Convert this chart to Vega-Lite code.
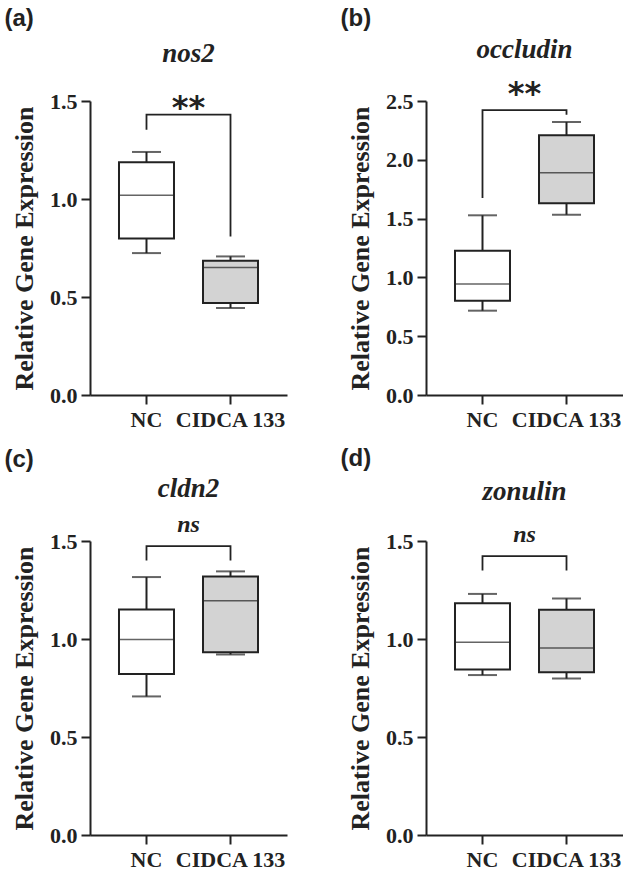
{
  "$schema": "https://vega.github.io/schema/vega-lite/v6.json",
  "padding": {"left": 4, "top": 6, "right": 0, "bottom": 0},
  "background": "white",
  "datasets": {
    "stats": [
      {"gene": "nos2", "group": "NC", "min": 0.724, "q1": 0.798, "median": 1.019, "q3": 1.188, "max": 1.240},
      {"gene": "nos2", "group": "CIDCA 133", "min": 0.444, "q1": 0.469, "median": 0.651, "q3": 0.685, "max": 0.707},
      {"gene": "occludin", "group": "NC", "min": 0.717, "q1": 0.802, "median": 0.944, "q3": 1.227, "max": 1.528},
      {"gene": "occludin", "group": "CIDCA 133", "min": 1.533, "q1": 1.630, "median": 1.890, "q3": 2.208, "max": 2.321},
      {"gene": "cldn2", "group": "NC", "min": 0.707, "q1": 0.821, "median": 0.998, "q3": 1.151, "max": 1.316},
      {"gene": "cldn2", "group": "CIDCA 133", "min": 0.921, "q1": 0.932, "median": 1.195, "q3": 1.319, "max": 1.345},
      {"gene": "zonulin", "group": "NC", "min": 0.816, "q1": 0.845, "median": 0.983, "q3": 1.182, "max": 1.230},
      {"gene": "zonulin", "group": "CIDCA 133", "min": 0.798, "q1": 0.830, "median": 0.954, "q3": 1.149, "max": 1.207}
    ],
    "brackets": [
      {"gene": "nos2", "group": "NC", "order": 1, "y": 1.353},
      {"gene": "nos2", "group": "NC", "order": 2, "y": 1.43},
      {"gene": "nos2", "group": "CIDCA 133", "order": 3, "y": 1.43},
      {"gene": "nos2", "group": "CIDCA 133", "order": 4, "y": 0.809},
      {"gene": "occludin", "group": "NC", "order": 1, "y": 1.675},
      {"gene": "occludin", "group": "NC", "order": 2, "y": 2.423},
      {"gene": "occludin", "group": "CIDCA 133", "order": 3, "y": 2.423},
      {"gene": "occludin", "group": "CIDCA 133", "order": 4, "y": 2.383},
      {"gene": "cldn2", "group": "NC", "order": 1, "y": 1.401},
      {"gene": "cldn2", "group": "NC", "order": 2, "y": 1.474},
      {"gene": "cldn2", "group": "CIDCA 133", "order": 3, "y": 1.474},
      {"gene": "cldn2", "group": "CIDCA 133", "order": 4, "y": 1.401},
      {"gene": "zonulin", "group": "NC", "order": 1, "y": 1.35},
      {"gene": "zonulin", "group": "NC", "order": 2, "y": 1.423},
      {"gene": "zonulin", "group": "CIDCA 133", "order": 3, "y": 1.423},
      {"gene": "zonulin", "group": "CIDCA 133", "order": 4, "y": 1.35}
    ],
    "labels": [
      {"gene": "nos2", "text": "**", "y": 1.464},
      {"gene": "occludin", "text": "**", "y": 2.56},
      {"gene": "cldn2", "text": "ns", "y": 1.58},
      {"gene": "zonulin", "text": "ns", "y": 1.53}
    ]
  },
  "spacing": 17,
  "vconcat": [
    {
      "spacing": 53,
      "hconcat": [
        {
          "title": {"text": "(a)", "anchor": "start", "frame": "bounds", "font": "Liberation Sans, Arial, sans-serif", "fontWeight": "bold", "fontSize": 24, "color": "#222", "offset": 9.5, "dx": -7},
          "vconcat": [
            {
              "width": 197, "height": 294,
              "title": {"text": "nos2", "anchor": "middle", "frame": "group", "font": "Times New Roman, Liberation Serif, DejaVu Serif, serif", "fontStyle": "italic", "fontWeight": "bold", "fontSize": 27, "color": "#222", "offset": 22},
              "layer": [
                {"data": {"name": "brackets"}, "transform": [{"filter": "datum.gene === 'nos2'"}],
                 "mark": {"type": "line", "color": "#222", "strokeWidth": 1.8},
                 "encoding": {
                   "x": {"field": "group", "type": "nominal", "sort": ["NC", "CIDCA 133"], "scale": {"domain": ["NC", "CIDCA 133"], "paddingInner": 0.3, "paddingOuter": 0.3225}, "axis": {"title": null, "labelAngle": 0}},
                   "y": {"field": "y", "type": "quantitative", "scale": {"domain": [0, 1.5], "nice": false, "zero": true}, "axis": {"title": "Relative Gene Expression", "values": [0, 0.5, 1, 1.5], "format": ".1f"}},
                   "order": {"field": "order", "type": "quantitative"}}},
                {"data": {"name": "stats"}, "transform": [{"filter": "datum.gene === 'nos2'"}],
                 "mark": {"type": "rule", "color": "#222", "strokeWidth": 2},
                 "encoding": {"x": {"field": "group", "type": "nominal", "sort": ["NC", "CIDCA 133"]}, "y": {"field": "min", "type": "quantitative"}, "y2": {"field": "max"}}},
                {"data": {"name": "stats"}, "transform": [{"filter": "datum.gene === 'nos2'"}],
                 "mark": {"type": "bar", "width": 55, "stroke": "#222", "strokeWidth": 2},
                 "encoding": {"x": {"field": "group", "type": "nominal", "sort": ["NC", "CIDCA 133"]}, "y": {"field": "q3", "type": "quantitative"}, "y2": {"field": "q1"},
                   "fill": {"field": "group", "type": "nominal", "scale": {"domain": ["NC", "CIDCA 133"], "range": ["#ffffff", "#d3d3d3"]}, "legend": null}}},
                {"data": {"name": "stats"}, "transform": [{"filter": "datum.gene === 'nos2'"}],
                 "mark": {"type": "tick", "color": "#222", "size": 55, "thickness": 1.5},
                 "encoding": {"x": {"field": "group", "type": "nominal", "sort": ["NC", "CIDCA 133"]}, "y": {"field": "median", "type": "quantitative"}}},
                {"data": {"name": "stats"}, "transform": [{"filter": "datum.gene === 'nos2'"}],
                 "mark": {"type": "tick", "color": "#222", "size": 29, "thickness": 2},
                 "encoding": {"x": {"field": "group", "type": "nominal", "sort": ["NC", "CIDCA 133"]}, "y": {"field": "min", "type": "quantitative"}}},
                {"data": {"name": "stats"}, "transform": [{"filter": "datum.gene === 'nos2'"}],
                 "mark": {"type": "tick", "color": "#222", "size": 29, "thickness": 2},
                 "encoding": {"x": {"field": "group", "type": "nominal", "sort": ["NC", "CIDCA 133"]}, "y": {"field": "max", "type": "quantitative"}}},
                {"data": {"name": "labels"}, "transform": [{"filter": "datum.gene === 'nos2'"}],
                 "mark": {"type": "text", "font": "DejaVu Sans", "fontWeight": "bold", "fontSize": 32, "color": "#222", "baseline": "middle"},
                 "encoding": {"y": {"field": "y", "type": "quantitative"}, "text": {"field": "text"}}}
              ]
            }
          ]
        },
        {
          "title": {"text": "(b)", "anchor": "start", "frame": "bounds", "font": "Liberation Sans, Arial, sans-serif", "fontWeight": "bold", "fontSize": 24, "color": "#222", "offset": 4.5, "dx": -7},
          "vconcat": [
            {
              "width": 197, "height": 294,
              "title": {"text": "occludin", "anchor": "middle", "frame": "group", "font": "Times New Roman, Liberation Serif, DejaVu Serif, serif", "fontStyle": "italic", "fontWeight": "bold", "fontSize": 27, "color": "#222", "offset": 14.3},
              "layer": [
                {"data": {"name": "brackets"}, "transform": [{"filter": "datum.gene === 'occludin'"}],
                 "mark": {"type": "line", "color": "#222", "strokeWidth": 1.8},
                 "encoding": {
                   "x": {"field": "group", "type": "nominal", "sort": ["NC", "CIDCA 133"], "scale": {"domain": ["NC", "CIDCA 133"], "paddingInner": 0.3, "paddingOuter": 0.3225}, "axis": {"title": null, "labelAngle": 0}},
                   "y": {"field": "y", "type": "quantitative", "scale": {"domain": [0, 2.5], "nice": false, "zero": true}, "axis": {"title": "Relative Gene Expression", "values": [0, 0.5, 1, 1.5, 2, 2.5], "format": ".1f"}},
                   "order": {"field": "order", "type": "quantitative"}}},
                {"data": {"name": "stats"}, "transform": [{"filter": "datum.gene === 'occludin'"}],
                 "mark": {"type": "rule", "color": "#222", "strokeWidth": 2},
                 "encoding": {"x": {"field": "group", "type": "nominal", "sort": ["NC", "CIDCA 133"]}, "y": {"field": "min", "type": "quantitative"}, "y2": {"field": "max"}}},
                {"data": {"name": "stats"}, "transform": [{"filter": "datum.gene === 'occludin'"}],
                 "mark": {"type": "bar", "width": 55, "stroke": "#222", "strokeWidth": 2},
                 "encoding": {"x": {"field": "group", "type": "nominal", "sort": ["NC", "CIDCA 133"]}, "y": {"field": "q3", "type": "quantitative"}, "y2": {"field": "q1"},
                   "fill": {"field": "group", "type": "nominal", "scale": {"domain": ["NC", "CIDCA 133"], "range": ["#ffffff", "#d3d3d3"]}, "legend": null}}},
                {"data": {"name": "stats"}, "transform": [{"filter": "datum.gene === 'occludin'"}],
                 "mark": {"type": "tick", "color": "#222", "size": 55, "thickness": 1.5},
                 "encoding": {"x": {"field": "group", "type": "nominal", "sort": ["NC", "CIDCA 133"]}, "y": {"field": "median", "type": "quantitative"}}},
                {"data": {"name": "stats"}, "transform": [{"filter": "datum.gene === 'occludin'"}],
                 "mark": {"type": "tick", "color": "#222", "size": 29, "thickness": 2},
                 "encoding": {"x": {"field": "group", "type": "nominal", "sort": ["NC", "CIDCA 133"]}, "y": {"field": "min", "type": "quantitative"}}},
                {"data": {"name": "stats"}, "transform": [{"filter": "datum.gene === 'occludin'"}],
                 "mark": {"type": "tick", "color": "#222", "size": 29, "thickness": 2},
                 "encoding": {"x": {"field": "group", "type": "nominal", "sort": ["NC", "CIDCA 133"]}, "y": {"field": "max", "type": "quantitative"}}},
                {"data": {"name": "labels"}, "transform": [{"filter": "datum.gene === 'occludin'"}],
                 "mark": {"type": "text", "font": "DejaVu Sans", "fontWeight": "bold", "fontSize": 32, "color": "#222", "baseline": "middle"},
                 "encoding": {"y": {"field": "y", "type": "quantitative"}, "text": {"field": "text"}}}
              ]
            }
          ]
        }
      ]
    },
    {
      "spacing": 53,
      "hconcat": [
        {
          "title": {"text": "(c)", "anchor": "start", "frame": "bounds", "font": "Liberation Sans, Arial, sans-serif", "fontWeight": "bold", "fontSize": 24, "color": "#222", "offset": 3, "dx": -7},
          "vconcat": [
            {
              "width": 197, "height": 294,
              "title": {"text": "cldn2", "anchor": "middle", "frame": "group", "font": "Times New Roman, Liberation Serif, DejaVu Serif, serif", "fontStyle": "italic", "fontWeight": "bold", "fontSize": 27, "color": "#222", "offset": 10},
              "layer": [
                {"data": {"name": "brackets"}, "transform": [{"filter": "datum.gene === 'cldn2'"}],
                 "mark": {"type": "line", "color": "#222", "strokeWidth": 1.8},
                 "encoding": {
                   "x": {"field": "group", "type": "nominal", "sort": ["NC", "CIDCA 133"], "scale": {"domain": ["NC", "CIDCA 133"], "paddingInner": 0.3, "paddingOuter": 0.3225}, "axis": {"title": null, "labelAngle": 0}},
                   "y": {"field": "y", "type": "quantitative", "scale": {"domain": [0, 1.5], "nice": false, "zero": true}, "axis": {"title": "Relative Gene Expression", "values": [0, 0.5, 1, 1.5], "format": ".1f"}},
                   "order": {"field": "order", "type": "quantitative"}}},
                {"data": {"name": "stats"}, "transform": [{"filter": "datum.gene === 'cldn2'"}],
                 "mark": {"type": "rule", "color": "#222", "strokeWidth": 2},
                 "encoding": {"x": {"field": "group", "type": "nominal", "sort": ["NC", "CIDCA 133"]}, "y": {"field": "min", "type": "quantitative"}, "y2": {"field": "max"}}},
                {"data": {"name": "stats"}, "transform": [{"filter": "datum.gene === 'cldn2'"}],
                 "mark": {"type": "bar", "width": 55, "stroke": "#222", "strokeWidth": 2},
                 "encoding": {"x": {"field": "group", "type": "nominal", "sort": ["NC", "CIDCA 133"]}, "y": {"field": "q3", "type": "quantitative"}, "y2": {"field": "q1"},
                   "fill": {"field": "group", "type": "nominal", "scale": {"domain": ["NC", "CIDCA 133"], "range": ["#ffffff", "#d3d3d3"]}, "legend": null}}},
                {"data": {"name": "stats"}, "transform": [{"filter": "datum.gene === 'cldn2'"}],
                 "mark": {"type": "tick", "color": "#222", "size": 55, "thickness": 1.5},
                 "encoding": {"x": {"field": "group", "type": "nominal", "sort": ["NC", "CIDCA 133"]}, "y": {"field": "median", "type": "quantitative"}}},
                {"data": {"name": "stats"}, "transform": [{"filter": "datum.gene === 'cldn2'"}],
                 "mark": {"type": "tick", "color": "#222", "size": 29, "thickness": 2},
                 "encoding": {"x": {"field": "group", "type": "nominal", "sort": ["NC", "CIDCA 133"]}, "y": {"field": "min", "type": "quantitative"}}},
                {"data": {"name": "stats"}, "transform": [{"filter": "datum.gene === 'cldn2'"}],
                 "mark": {"type": "tick", "color": "#222", "size": 29, "thickness": 2},
                 "encoding": {"x": {"field": "group", "type": "nominal", "sort": ["NC", "CIDCA 133"]}, "y": {"field": "max", "type": "quantitative"}}},
                {"data": {"name": "labels"}, "transform": [{"filter": "datum.gene === 'cldn2'"}],
                 "mark": {"type": "text", "font": "Times New Roman, Liberation Serif, DejaVu Serif, serif", "fontStyle": "italic", "fontWeight": "bold", "fontSize": 24, "color": "#222", "baseline": "middle"},
                 "encoding": {"y": {"field": "y", "type": "quantitative"}, "text": {"field": "text"}}}
              ]
            }
          ]
        },
        {
          "title": {"text": "(d)", "anchor": "start", "frame": "bounds", "font": "Liberation Sans, Arial, sans-serif", "fontWeight": "bold", "fontSize": 24, "color": "#222", "offset": 7, "dx": -7},
          "vconcat": [
            {
              "width": 197, "height": 294,
              "title": {"text": "zonulin", "anchor": "middle", "frame": "group", "font": "Times New Roman, Liberation Serif, DejaVu Serif, serif", "fontStyle": "italic", "fontWeight": "bold", "fontSize": 27, "color": "#222", "offset": 17},
              "layer": [
                {"data": {"name": "brackets"}, "transform": [{"filter": "datum.gene === 'zonulin'"}],
                 "mark": {"type": "line", "color": "#222", "strokeWidth": 1.8},
                 "encoding": {
                   "x": {"field": "group", "type": "nominal", "sort": ["NC", "CIDCA 133"], "scale": {"domain": ["NC", "CIDCA 133"], "paddingInner": 0.3, "paddingOuter": 0.3225}, "axis": {"title": null, "labelAngle": 0}},
                   "y": {"field": "y", "type": "quantitative", "scale": {"domain": [0, 1.5], "nice": false, "zero": true}, "axis": {"title": "Relative Gene Expression", "values": [0, 0.5, 1, 1.5], "format": ".1f"}},
                   "order": {"field": "order", "type": "quantitative"}}},
                {"data": {"name": "stats"}, "transform": [{"filter": "datum.gene === 'zonulin'"}],
                 "mark": {"type": "rule", "color": "#222", "strokeWidth": 2},
                 "encoding": {"x": {"field": "group", "type": "nominal", "sort": ["NC", "CIDCA 133"]}, "y": {"field": "min", "type": "quantitative"}, "y2": {"field": "max"}}},
                {"data": {"name": "stats"}, "transform": [{"filter": "datum.gene === 'zonulin'"}],
                 "mark": {"type": "bar", "width": 55, "stroke": "#222", "strokeWidth": 2},
                 "encoding": {"x": {"field": "group", "type": "nominal", "sort": ["NC", "CIDCA 133"]}, "y": {"field": "q3", "type": "quantitative"}, "y2": {"field": "q1"},
                   "fill": {"field": "group", "type": "nominal", "scale": {"domain": ["NC", "CIDCA 133"], "range": ["#ffffff", "#d3d3d3"]}, "legend": null}}},
                {"data": {"name": "stats"}, "transform": [{"filter": "datum.gene === 'zonulin'"}],
                 "mark": {"type": "tick", "color": "#222", "size": 55, "thickness": 1.5},
                 "encoding": {"x": {"field": "group", "type": "nominal", "sort": ["NC", "CIDCA 133"]}, "y": {"field": "median", "type": "quantitative"}}},
                {"data": {"name": "stats"}, "transform": [{"filter": "datum.gene === 'zonulin'"}],
                 "mark": {"type": "tick", "color": "#222", "size": 29, "thickness": 2},
                 "encoding": {"x": {"field": "group", "type": "nominal", "sort": ["NC", "CIDCA 133"]}, "y": {"field": "min", "type": "quantitative"}}},
                {"data": {"name": "stats"}, "transform": [{"filter": "datum.gene === 'zonulin'"}],
                 "mark": {"type": "tick", "color": "#222", "size": 29, "thickness": 2},
                 "encoding": {"x": {"field": "group", "type": "nominal", "sort": ["NC", "CIDCA 133"]}, "y": {"field": "max", "type": "quantitative"}}},
                {"data": {"name": "labels"}, "transform": [{"filter": "datum.gene === 'zonulin'"}],
                 "mark": {"type": "text", "font": "Times New Roman, Liberation Serif, DejaVu Serif, serif", "fontStyle": "italic", "fontWeight": "bold", "fontSize": 24, "color": "#222", "baseline": "middle"},
                 "encoding": {"y": {"field": "y", "type": "quantitative"}, "text": {"field": "text"}}}
              ]
            }
          ]
        }
      ]
    }
  ],
  "config": {
    "view": {"stroke": null},
    "axis": {"grid": false, "domainColor": "#222", "domainWidth": 2, "tickColor": "#222", "tickWidth": 2, "tickSize": 9,
             "labelFont": "Times New Roman, Liberation Serif, DejaVu Serif, serif", "labelFontWeight": "bold", "labelFontSize": 22, "labelColor": "#222",
             "titleFont": "Times New Roman, Liberation Serif, DejaVu Serif, serif", "titleFontWeight": "bold", "titleFontSize": 26, "titleColor": "#222"},
    "axisX": {"labelPadding": 5, "labelAngle": 0},
    "axisY": {"labelPadding": 4, "titlePadding": 12}
  }
}
